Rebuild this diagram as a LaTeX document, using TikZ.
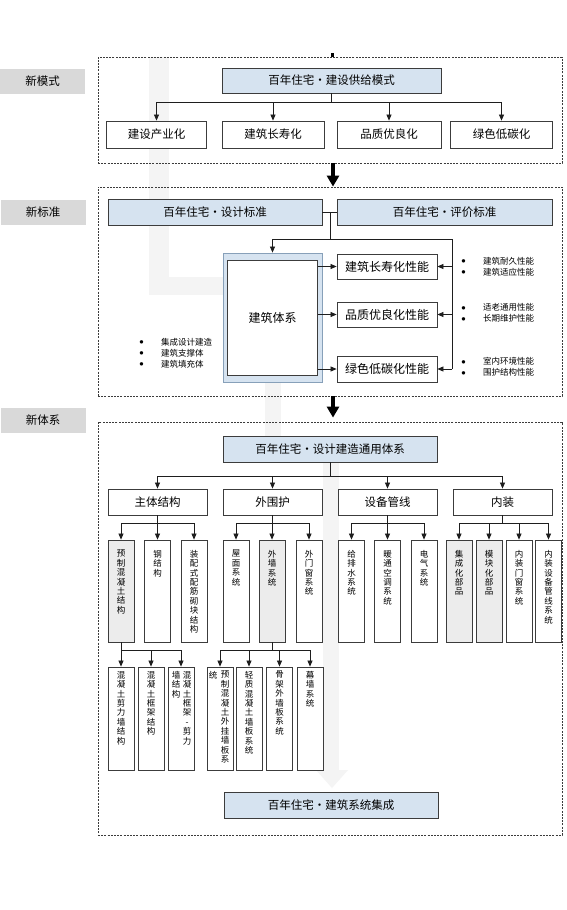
\documentclass[tikz,border=0pt]{standalone}
\usepackage{fontspec}
\newfontfamily\cjk{Noto Sans CJK SC}
\newfontfamily\dvs{DejaVu Sans}
\usetikzlibrary{arrows.meta}
\definecolor{lblue}{RGB}{214,227,240}
\definecolor{boxc}{RGB}{60,60,60}
\definecolor{lgray}{RGB}{217,217,217}
\definecolor{vgray}{RGB}{236,236,236}
\definecolor{outerc}{RGB}{135,160,185}
\definecolor{wmc}{RGB}{244,244,244}
\definecolor{linec}{RGB}{30,30,30}
\newcommand{\bul}{\makebox[21.5pt][l]{\raisebox{1.6pt}{\dvs\fontsize{4.5}{5}\selectfont ●}}}
\begin{document}
\begin{tikzpicture}[x=1pt,y=-1pt,
  every node/.style={font=\cjk},
  mybox/.style={draw=boxc, line width=0.8pt, fill=white, inner sep=0pt, font=\cjk\fontsize{11.5}{13}\selectfont},
  bluebox/.style={mybox, fill=lblue},
  sidelabel/.style={fill=lgray, inner sep=0pt, minimum width=85pt, minimum height=25pt, font=\cjk\fontsize{11.5}{13}\selectfont},
  secframe/.style={draw=boxc, dash pattern=on 2pt off 1.2pt, line width=0.8pt, inner sep=0pt},
  vbox/.style={mybox, minimum width=26pt},
  vtext/.style={align=center, inner sep=0pt, font=\cjk\fontsize{8.5}{9.4}\selectfont, anchor=north},
  btext/.style={align=left, inner sep=0pt, anchor=west, font=\cjk\fontsize{8.5}{11}\selectfont},
  conn/.style={line width=0.75pt, draw=linec},
  arr/.style={conn, -{Triangle[length=6pt,width=5pt]}},
  bigarr/.style={line width=4.5pt, draw=black, -{Triangle[length=11pt,width=12pt]}},
  wm/.style={fill=wmc}
]
\fill[white] (0,0) rectangle (567,910);
\useasboundingbox (0,0) rectangle (567,910);

% faint background marks
\fill[wm] (149,57) rectangle (169,295);
\fill[wm] (149,277) rectangle (223,295);
\fill[wm] (265,382) rectangle (281,436);
\fill[wm] (323,462) rectangle (339,770);
\fill[wm] (316,770) -- (348,770) -- (332,788) -- cycle;
\fill[black] (331,53) rectangle (334,57);

% ---------- section frames ----------
\node[secframe, minimum width=464pt, minimum height=106pt] (sec1) at (330,110) {};
\node[secframe, minimum width=464pt, minimum height=209pt] (sec2) at (330,291.5) {};
\node[secframe, minimum width=464pt, minimum height=413pt] (sec3) at (330,628.5) {};

\draw[bigarr] ([xshift=3pt]sec1.south) -- ([xshift=3pt]sec2.north);
\draw[bigarr] ([xshift=3pt]sec2.south) -- ([xshift=3pt,yshift=4pt]sec3.north);

% ---------- side labels ----------
\node[sidelabel] (lab1) at (42.5,81.5) {新模式};
\node[sidelabel] (lab2) at (43,212) {新标准};
\node[sidelabel] (lab3) at (43,420) {新体系};

% ---------- section 1 ----------
\node[bluebox, minimum width=219pt, minimum height=25pt] (top1) at (331.5,80.5) {百年住宅・建设供给模式};
\node[mybox, minimum width=100pt, minimum height=27pt] (c1) at (156.5,134.5) {建设产业化};
\node[mybox, minimum width=102pt, minimum height=27pt] (c2) at (273,134.5) {建筑长寿化};
\node[mybox, minimum width=104pt, minimum height=27pt] (c3) at (389,134.5) {品质优良化};
\node[mybox, minimum width=102pt, minimum height=27pt] (c4) at (501.5,134.5) {绿色低碳化};
\draw[conn] (top1.south) -- ++(0,9) coordinate (j1);
\draw[conn] (c1.north |- j1) -- (c4.north |- j1);
\foreach \c in {c1,c2,c3,c4} \draw[arr] (\c.north |- j1) -- (\c.north);

% ---------- section 2 ----------
\node[bluebox, minimum width=214pt, minimum height=26pt] (design) at (215,212) {百年住宅・设计标准};
\node[bluebox, minimum width=215pt, minimum height=26pt] (eval) at (444.5,212) {百年住宅・评价标准};
\node[draw=outerc, fill=lblue, line width=0.8pt, inner sep=0pt, minimum width=99pt, minimum height=129pt] (outer) at (272.5,317.5) {};
\node[mybox, minimum width=90pt, minimum height=115pt, font=\cjk\fontsize{12}{14}\selectfont] (inner) at (272.5,317.5) {建筑体系};
\node[mybox, minimum width=100pt, minimum height=25pt, font=\cjk\fontsize{12}{14}\selectfont] (p1) at (387,266.5) {建筑长寿化性能};
\node[mybox, minimum width=100pt, minimum height=25pt, font=\cjk\fontsize{12}{14}\selectfont] (p2) at (387,314.5) {品质优良化性能};
\node[mybox, minimum width=100pt, minimum height=26pt, font=\cjk\fontsize{12}{14}\selectfont] (p3) at (387,369) {绿色低碳化性能};

\draw[conn] (design.east) -- (eval.west);
\coordinate (j2) at (330,212);
\coordinate (j3) at (330,239);
\coordinate (rr) at (452,239);
\draw[conn] (j2) -- (j3);
\draw[conn] (outer.north |- j3) -- (rr) -- (rr |- p3.east);
\draw[arr] (outer.north |- j3) -- (outer.north);
\foreach \p in {p1,p2,p3} {
  \draw[arr] (rr |- \p.east) -- (\p.east);
  \draw[arr] (inner.east |- \p.west) -- (\p.west);
}

\node[btext] (r1) at (461.5,266.5) {\bul 建筑耐久性能\\\bul 建筑适应性能};
\node[btext] (r2) at (461.5,313) {\bul 适老通用性能\\\bul 长期维护性能};
\node[btext] (r3) at (461.5,367) {\bul 室内环境性能\\\bul 围护结构性能};
\node[btext] (l1) at (139.5,353) {\bul 集成设计建造\\\bul 建筑支撑体\\\bul 建筑填充体};

% ---------- section 3 ----------
\node[bluebox, minimum width=214pt, minimum height=26pt] (top3) at (330,449) {百年住宅・设计建造通用体系};
\node[mybox, minimum width=99pt, minimum height=26pt] (L1) at (157.5,502) {主体结构};
\node[mybox, minimum width=99pt, minimum height=26pt] (L2) at (272.5,502) {外围护};
\node[mybox, minimum width=99pt, minimum height=26pt] (L3) at (387.5,502) {设备管线};
\node[mybox, minimum width=99pt, minimum height=26pt] (L4) at (502.5,502) {内装};
\draw[conn] (top3.south) -- ++(0,14) coordinate (j4);
\draw[conn] (L1.north |- j4) -- (L4.north |- j4);
\foreach \c in {L1,L2,L3,L4} \draw[arr] (\c.north |- j4) -- (\c.north);

% level 3 boxes
\node[vbox, minimum height=102pt, fill=vgray] (a1) at (121,591) {};
\node[vbox, minimum height=102pt] (a2) at (157.5,591) {};
\node[vbox, minimum height=102pt] (a3) at (194,591) {};
\node[vbox, minimum height=102pt] (b1) at (236,591) {};
\node[vbox, minimum height=102pt, fill=vgray] (b2) at (272,591) {};
\node[vbox, minimum height=102pt] (b3) at (309,591) {};
\node[vbox, minimum height=102pt] (d1) at (351.5,591) {};
\node[vbox, minimum height=102pt] (d2) at (387.5,591) {};
\node[vbox, minimum height=102pt] (d3) at (424,591) {};
\node[vbox, minimum height=102pt, fill=vgray] (e1) at (459,591) {};
\node[vbox, minimum height=102pt, fill=vgray] (e2) at (489,591) {};
\node[vbox, minimum height=102pt] (e3) at (519,591) {};
\node[vbox, minimum height=102pt] (e4) at (548.5,591) {};

\node[vtext] (a1t) at (121,550) {预\\制\\混\\凝\\土\\结\\构};
\node[vtext] (a2t) at (157.5,550) {钢\\结\\构};
\node[vtext] (a3t) at (194,550) {装\\配\\式\\配\\筋\\砌\\块\\结\\构};
\node[vtext] (b1t) at (236,550) {屋\\面\\系\\统};
\node[vtext] (b2t) at (272,550) {外\\墙\\系\\统};
\node[vtext] (b3t) at (309,550) {外\\门\\窗\\系\\统};
\node[vtext] (d1t) at (351.5,550) {给\\排\\水\\系\\统};
\node[vtext] (d2t) at (387.5,550) {暖\\通\\空\\调\\系\\统};
\node[vtext] (d3t) at (424,550) {电\\气\\系\\统};
\node[vtext] (e1t) at (459,550) {集\\成\\化\\部\\品};
\node[vtext] (e2t) at (489,550) {模\\块\\化\\部\\品};
\node[vtext] (e3t) at (519,550) {内\\装\\门\\窗\\系\\统};
\node[vtext] (e4t) at (548.5,550) {内\\装\\设\\备\\管\\线\\系\\统};

\draw[conn] (L1.south) -- ++(0,8) coordinate (ja);
\draw[conn] (a1.north |- ja) -- (a3.north |- ja);
\foreach \c in {a1,a2,a3} \draw[arr] (\c.north |- ja) -- (\c.north);
\draw[conn] (L2.south) -- ++(0,8) coordinate (jb);
\draw[conn] (b1.north |- jb) -- (b3.north |- jb);
\foreach \c in {b1,b2,b3} \draw[arr] (\c.north |- jb) -- (\c.north);
\draw[conn] (L3.south) -- ++(0,8) coordinate (jd);
\draw[conn] (d1.north |- jd) -- (d3.north |- jd);
\foreach \c in {d1,d2,d3} \draw[arr] (\c.north |- jd) -- (\c.north);
\draw[conn] (L4.south) -- ++(0,8) coordinate (je);
\draw[conn] (e1.north |- je) -- (e4.north |- je);
\foreach \c in {e1,e2,e3,e4} \draw[arr] (\c.north |- je) -- (\c.north);

% level 4 boxes
\node[vbox, minimum height=103pt] (f1) at (121,718.5) {};
\node[vbox, minimum height=103pt] (f2) at (151,718.5) {};
\node[vbox, minimum height=103pt] (f3) at (181,718.5) {};
\node[vbox, minimum height=103pt] (g1) at (220,718.5) {};
\node[vbox, minimum height=103pt] (g2) at (249,718.5) {};
\node[vbox, minimum height=103pt] (g3) at (279.5,718.5) {};
\node[vbox, minimum height=103pt] (g4) at (310,718.5) {};

\node[vtext] (f1t) at (121,671) {混\\凝\\土\\剪\\力\\墙\\结\\构};
\node[vtext] (f2t) at (151,671) {混\\凝\\土\\框\\架\\结\\构};
\node[vtext] (f3t) at (187,671) {混\\凝\\土\\框\\架\\-\\剪\\力};
\node[vtext] (f3u) at (176,671) {墙\\结\\构};
\node[vtext] (g1t) at (225,671) {预\\制\\混\\凝\\土\\外\\挂\\墙\\板\\系};
\node[vtext] (g1u) at (213,671) {统};
\node[vtext] (g2t) at (249,671) {轻\\质\\混\\凝\\土\\墙\\板\\系\\统};
\node[vtext] (g3t) at (279.5,671) {骨\\架\\外\\墙\\板\\系\\统};
\node[vtext] (g4t) at (310,671) {幕\\墙\\系\\统};

\draw[conn] (a1.south) -- ++(0,8) coordinate (jf);
\draw[conn] (f1.north |- jf) -- (f3.north |- jf);
\foreach \c in {f1,f2,f3} \draw[arr] (\c.north |- jf) -- (\c.north);
\draw[conn] (b2.south) -- ++(0,8) coordinate (jg);
\draw[conn] (g1.north |- jg) -- (g4.north |- jg);
\foreach \c in {g1,g2,g3,g4} \draw[arr] (\c.north |- jg) -- (\c.north);

\node[bluebox, minimum width=214pt, minimum height=26pt] (bot) at (331,805) {百年住宅・建筑系统集成};
\end{tikzpicture}
\end{document}
